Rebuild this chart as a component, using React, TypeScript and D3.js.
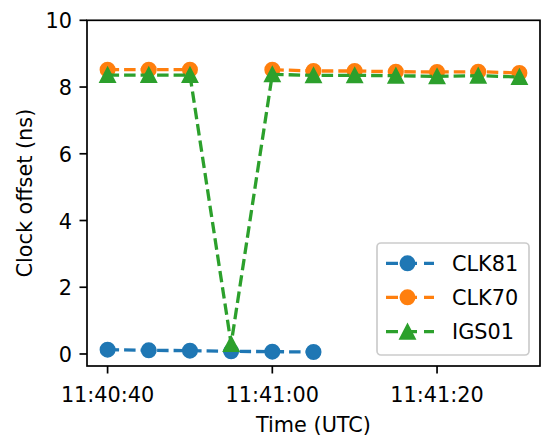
import React from "react";
import * as d3 from "d3";

const times: string[] = [
  "11:40:40", "11:40:45", "11:40:50", "11:40:55", "11:41:00", "11:41:05",
  "11:41:10", "11:41:15", "11:41:20", "11:41:25", "11:41:30",
];
const clk81: (number | null)[] = [0.13, 0.11, 0.1, 0.08, 0.07, 0.06, null, null, null, null, null];
const clk70: (number | null)[] = [8.52, 8.52, 8.52, null, 8.52, 8.48, 8.48, 8.46, 8.45, 8.46, 8.42];
const igs01: (number | null)[] = [8.36, 8.36, 8.36, 0.3, 8.38, 8.35, 8.35, 8.34, 8.32, 8.34, 8.3];
const seriesNames = ["CLK81", "CLK70", "IGS01"];
const seriesColors = ["#1f77b4", "#ff7f0e", "#2ca02c"];
const seriesMarkers = ["circle", "circle", "triangle"];
const yTicks = [0, 2, 4, 6, 8, 10];
const xTickLabels = ["11:40:40", "11:41:00", "11:41:20"];

const toDate = (s: string) => new Date(`2020-01-01T${s}Z`);

const W = 541;
const H = 436;
const left = 87;
const right = 540;
const top = 20.3;
const bottom = 366;
const FONT = "DejaVu Sans, sans-serif";
const FS = 20.8;
const LW = 3.3;

export default function App() {
  const t0 = toDate(times[0]).getTime();
  const tN = toDate(times[times.length - 1]).getTime();
  const x = d3
    .scaleUtc()
    .domain([new Date(t0 - 2500), new Date(tN + 2500)])
    .range([left, right]);
  const y = d3.scaleLinear().domain([-0.36, 10]).range([bottom, top]);

  const all = [clk81, clk70, igs01];
  const line = d3
    .line<{ t: Date; v: number | null }>()
    .defined((d) => d.v !== null)
    .x((d) => x(d.t))
    .y((d) => y(d.v as number));

  const marker = (kind: string, cx: number, cy: number, color: string, key: string) =>
    kind === "circle" ? (
      <circle key={key} cx={cx} cy={cy} r={7} fill={color} stroke={color} strokeWidth={2} />
    ) : (
      <path
        key={key}
        d={`M${cx},${cy - 7}L${cx - 7.3},${cy + 7}L${cx + 7.3},${cy + 7}Z`}
        fill={color}
        stroke={color}
        strokeWidth={2}
        strokeLinejoin="miter"
      />
    );

  const legendRows = [263.3, 297.3, 331.7];

  return (
    <div style={{ position: "absolute", left: 0, top: 0 }}>
      <svg width={W} height={H} style={{ display: "block" }} fontFamily={FONT}>
        <rect x={0} y={0} width={W} height={H} fill="white" />
        {all.map((vals, si) => {
          const data = times.map((t, i) => ({ t: toDate(t), v: vals[i] }));
          return (
            <g key={si}>
              <path
                d={line(data) || ""}
                fill="none"
                stroke={seriesColors[si]}
                strokeWidth={LW}
                strokeDasharray="11.5,5"
              />
              {data
                .filter((d) => d.v !== null)
                .map((d, i) =>
                  marker(seriesMarkers[si], x(d.t), y(d.v as number), seriesColors[si], `m${si}-${i}`)
                )}
            </g>
          );
        })}
        {/* frame */}
        <rect
          x={left}
          y={top}
          width={right - left}
          height={bottom - top}
          fill="none"
          stroke="black"
          strokeWidth={1.7}
        />
        {/* y ticks */}
        {yTicks.map((v) => (
          <g key={`y${v}`}>
            <line x1={left - 7.5} x2={left} y1={y(v)} y2={y(v)} stroke="black" strokeWidth={1.7} />
            <text x={left - 15} y={y(v) + 8} textAnchor="end" fontSize={FS} fill="black">
              {v}
            </text>
          </g>
        ))}
        {/* x ticks */}
        {xTickLabels.map((s) => {
          const xx = x(toDate(s));
          return (
            <g key={s}>
              <line x1={xx} x2={xx} y1={bottom} y2={bottom + 7.5} stroke="black" strokeWidth={1.7} />
              <text x={xx} y={401.5} textAnchor="middle" fontSize={FS} fill="black">
                {s}
              </text>
            </g>
          );
        })}
        <text x={(left + right) / 2} y={431.5} textAnchor="middle" fontSize={FS} fill="black">
          Time (UTC)
        </text>
        <text
          transform={`translate(32,${(top + bottom) / 2}) rotate(-90)`}
          textAnchor="middle"
          fontSize={FS}
          fill="black"
        >
          Clock offset (ns)
        </text>
        {/* legend */}
        <rect
          x={377}
          y={243}
          width={152}
          height={112}
          rx={4}
          ry={4}
          fill="white"
          fillOpacity={0.8}
          stroke="#cccccc"
          strokeWidth={1.7}
        />
        {seriesNames.map((name, i) => (
          <g key={name}>
            <line
              x1={386}
              x2={434}
              y1={legendRows[i]}
              y2={legendRows[i]}
              stroke={seriesColors[i]}
              strokeWidth={LW}
              strokeDasharray="12,7"
            />
            {marker(seriesMarkers[i], 407.5, legendRows[i], seriesColors[i], `lg${i}`)}
            <text x={452} y={legendRows[i] + 7.6} fontSize={FS} fill="black">
              {name}
            </text>
          </g>
        ))}
      </svg>
    </div>
  );
}
